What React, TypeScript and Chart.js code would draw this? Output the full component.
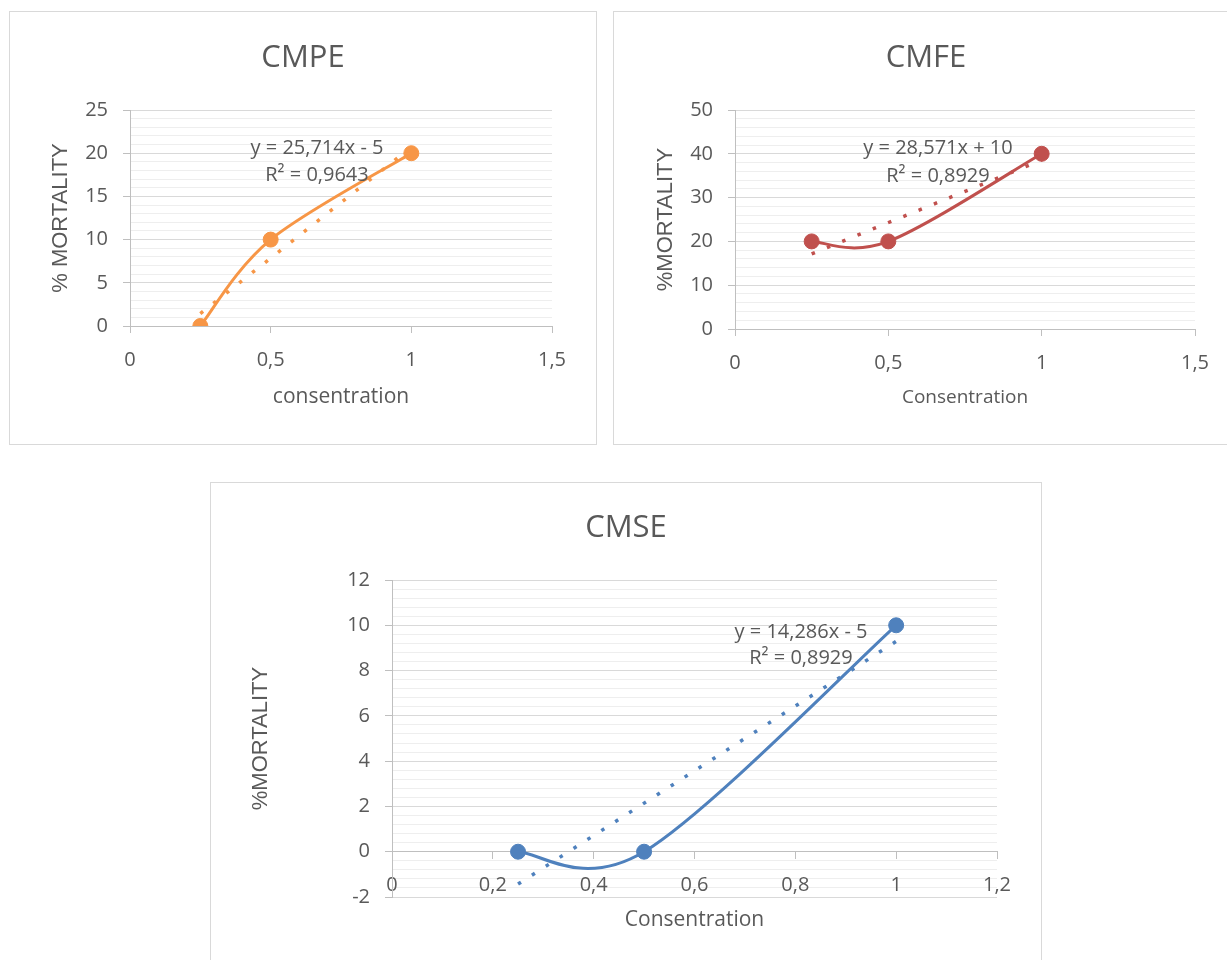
import React, { useEffect, useRef } from "react";
import { Chart, registerables } from "chart.js";

Chart.register(...registerables);

// ---------- data ----------
const concentrations = [0.25, 0.5, 1];
const cmpeMortality = [0, 10, 20];
const cmfeMortality = [20, 20, 40];
const cmseMortality = [0, 0, 10];

const trendX = [0.25, 1];
const cmpeTrend = [1.43, 20.71];
const cmfeTrend = [17.14, 38.57];
const cmseTrend = [-1.43, 9.29];

const cmpeEquation = ["y = 25,714x - 5", "R² = 0,9643"];
const cmfeEquation = ["y = 28,571x + 10", "R² = 0,8929"];
const cmseEquation = ["y = 14,286x - 5", "R² = 0,8929"];

const cmpeXTicks = [0, 0.5, 1, 1.5];
const cmfeXTicks = [0, 0.5, 1, 1.5];
const cmseXTicks = [0, 0.2, 0.4, 0.6, 0.8, 1, 1.2];

const cmpeYRange = [0, 25]; // min, max
const cmfeYRange = [0, 50];
const cmseYRange = [-2, 12];
const cmpeYSteps = [5, 1]; // major, minor
const cmfeYSteps = [10, 2];
const cmseYSteps = [2, 0.4];

// ---------- styles ----------
const TEXT = "#595959";
const AXIS = "#BFBFBF";
const GRID_MAJOR = "#D9D9D9";
const GRID_MINOR = "#EEEEEE";
const SANS = "'Open Sans', 'DejaVu Sans', sans-serif";
const ARIAL = "'Liberation Sans', Arial, sans-serif";
const TICK_SIZE = 20;
const TITLE_SIZE = 31;
const Y_TITLE_SIZE = 22;

type Spec = {
  box: { left: number; top: number; width: number; height: number };
  plot: { left: number; top: number; right: number; bottom: number };
  title: string;
  titleY: number;
  color: string;
  values: number[];
  trend: number[];
  equation: string[];
  eqX: number;
  eqY: number[];
  xTicks: number[];
  yRange: number[];
  ySteps: number[];
  xTitle: string;
  xTitleSize: number;
  xTitleY: number;
  yTitle: string;
  yTitleX: number;
  xAxisAtZero?: boolean;
};

const fmt = (v: number) => String(Math.round(v * 1000) / 1000).replace(".", ",");

const equationPlugin = {
  id: "equation",
  afterDatasetsDraw(chart: any, _args: any, opts: any) {
    const ctx = chart.ctx;
    ctx.save();
    ctx.font = `${opts.size}px ${opts.family}`;
    ctx.fillStyle = opts.color;
    ctx.textAlign = "center";
    ctx.textBaseline = "middle";
    (opts.lines as string[]).forEach((t, i) => ctx.fillText(t, opts.x, opts.y[i]));
    ctx.restore();
  },
};

// Office-style smoothing: Catmull-Rom control points (1/6 of neighbour chord)
const smoothPlugin = {
  id: "officeSmooth",
  beforeDatasetDraw(chart: any, args: any) {
    const meta = args.meta;
    const line = meta.dataset;
    if (!line || !line.options || !line.options.tension) return;
    if (typeof line.updateControlPoints === "function") {
      line.updateControlPoints(chart.chartArea, "x");
    }
    const pts = meta.data;
    const n = pts.length;
    for (let i = 0; i < n; i++) {
      const prev = pts[Math.max(i - 1, 0)];
      const next = pts[Math.min(i + 1, n - 1)];
      const dx = (next.x - prev.x) / 6;
      const dy = (next.y - prev.y) / 6;
      pts[i].cp1x = pts[i].x - dx;
      pts[i].cp1y = pts[i].y - dy;
      pts[i].cp2x = pts[i].x + dx;
      pts[i].cp2y = pts[i].y + dy;
    }
    line._pointsUpdated = true;
    line._path = undefined;
  },
};

function ChartBox({ spec }: { spec: Spec }) {
  const ref = useRef<HTMLCanvasElement | null>(null);
  const cw = spec.box.width - 2;
  const ch = spec.box.height - 2;
  const ox = spec.box.left + 1;
  const oy = spec.box.top + 1;

  useEffect(() => {
    if (!ref.current) return;
    const pl = spec.plot.left - ox;
    const pr = spec.plot.right - ox;
    const pt = spec.plot.top - oy;
    const pb = spec.plot.bottom - oy;
    const side = cw - pr; // equal side padding keeps the title centred in the box
    const [yMin, yMax] = spec.yRange;
    const [major, minor] = spec.ySteps;
    const isMajor = (v: number) => Math.abs(v / major - Math.round(v / major)) < 1e-6;

    const titleLh = TITLE_SIZE * 1.2;
    const titleC = spec.titleY - oy;
    const yTitleLh = Y_TITLE_SIZE * 1.2;
    const xTitleLh = spec.xTitleSize * 1.2;

    let xPosition: any = "bottom";
    let xHeight = ch - pb;
    let xTitlePadBottom = ch - (spec.xTitleY - oy) - xTitleLh / 2;
    if (spec.xAxisAtZero) {
      xPosition = { y: 0 };
      const axisPix = pt + ((yMax - 0) / (yMax - yMin)) * (pb - pt);
      xTitlePadBottom = 0;
      xHeight = spec.xTitleY - oy - axisPix + xTitleLh / 2;
    }

    const chart = new Chart(ref.current, {
      type: "line",
      data: {
        datasets: [
          {
            data: concentrations.map((x, i) => ({ x, y: spec.values[i] })),
            borderColor: spec.color,
            backgroundColor: spec.color,
            borderWidth: 3,
            tension: 0.4,
            pointRadius: 7.5,
            pointBorderWidth: 1,
            pointBackgroundColor: spec.color,
            pointBorderColor: spec.color,
          },
          {
            data: trendX.map((x, i) => ({ x, y: spec.trend[i] })),
            borderColor: spec.color,
            borderWidth: 3.5,
            borderDash: [3.5, 13],
            tension: 0,
            pointRadius: 0,
          },
        ],
      },
      options: {
        animation: false,
        responsive: false,
        events: [],
        layout: {
          padding: {
            left: side,
            top: 0,
            right: side,
            bottom: spec.xAxisAtZero ? ch - pb : 0,
          },
        },
        plugins: {
          legend: { display: false },
          tooltip: { enabled: false },
          title: {
            display: true,
            text: spec.title,
            color: TEXT,
            font: { family: SANS, size: TITLE_SIZE, weight: "normal", lineHeight: 1.2 },
            padding: { top: titleC - titleLh / 2, bottom: pt - titleC - titleLh / 2 },
          },
          equation: {
            lines: spec.equation,
            x: spec.eqX - ox,
            y: spec.eqY.map((v) => v - oy),
            size: TICK_SIZE,
            family: SANS,
            color: TEXT,
          },
        } as any,
        scales: {
          x: {
            type: "linear",
            position: xPosition,
            min: spec.xTicks[0],
            max: spec.xTicks[spec.xTicks.length - 1],
            afterBuildTicks: (s: any) => {
              s.ticks = spec.xTicks.map((v) => ({ value: v }));
            },
            afterFit: (s: any) => {
              s.height = xHeight;
            },
            grid: {
              drawOnChartArea: false,
              drawTicks: true,
              tickLength: 7,
              tickColor: AXIS,
            },
            border: { display: true, color: AXIS, width: 1 },
            ticks: {
              autoSkip: false,
              maxRotation: 0,
              padding: 15,
              color: TEXT,
              font: { family: SANS, size: TICK_SIZE },
              callback: (v: any) => fmt(Number(v)),
            },
            title: {
              display: true,
              text: spec.xTitle,
              color: TEXT,
              font: { family: SANS, size: spec.xTitleSize, lineHeight: 1.2 },
              padding: { top: 0, bottom: xTitlePadBottom },
            },
          },
          y: {
            type: "linear",
            position: "left",
            min: yMin,
            max: yMax,
            afterFit: (s: any) => {
              s.width = pl - side;
            },
            grid: {
              color: (c: any) => (isMajor(c.tick.value) ? GRID_MAJOR : GRID_MINOR),
              tickColor: (c: any) => (isMajor(c.tick.value) ? AXIS : "rgba(0,0,0,0)"),
              tickLength: 7,
              lineWidth: 1,
            },
            border: { display: true, color: AXIS, width: 1 },
            ticks: {
              stepSize: minor,
              autoSkip: false,
              padding: 15,
              color: TEXT,
              font: { family: SANS, size: TICK_SIZE },
              callback: (v: any) => (isMajor(Number(v)) ? fmt(Number(v)) : ""),
            },
            title: {
              display: true,
              text: spec.yTitle,
              color: TEXT,
              font: { family: ARIAL, size: Y_TITLE_SIZE, lineHeight: 1.2 },
              padding: { top: spec.yTitleX - ox - side - yTitleLh / 2, bottom: 0 },
            },
          },
        },
      } as any,
      plugins: [smoothPlugin, equationPlugin],
    });
    return () => chart.destroy();
  }, [spec]);

  return (
    <div
      style={{
        position: "absolute",
        left: spec.box.left,
        top: spec.box.top,
        width: spec.box.width,
        height: spec.box.height,
        border: "1px solid #D9D9D9",
        boxSizing: "border-box",
        background: "#FFFFFF",
      }}
    >
      <canvas ref={ref} width={cw} height={ch} style={{ display: "block", width: cw, height: ch }} />
    </div>
  );
}

const specs: Spec[] = [
  {
    box: { left: 9, top: 11, width: 588, height: 434 },
    plot: { left: 130, top: 110, right: 552, bottom: 326 },
    title: "CMPE",
    titleY: 58,
    color: "#F79646",
    values: cmpeMortality,
    trend: cmpeTrend,
    equation: cmpeEquation,
    eqX: 317,
    eqY: [148, 175],
    xTicks: cmpeXTicks,
    yRange: cmpeYRange,
    ySteps: cmpeYSteps,
    xTitle: "consentration",
    xTitleSize: 21,
    xTitleY: 397,
    yTitle: "% MORTALITY",
    yTitleX: 61,
  },
  {
    box: { left: 613, top: 11, width: 626, height: 434 },
    plot: { left: 735, top: 110, right: 1195, bottom: 329 },
    title: "CMFE",
    titleY: 58,
    color: "#C0504D",
    values: cmfeMortality,
    trend: cmfeTrend,
    equation: cmfeEquation,
    eqX: 938,
    eqY: [148, 176],
    xTicks: cmfeXTicks,
    yRange: cmfeYRange,
    ySteps: cmfeYSteps,
    xTitle: "Consentration",
    xTitleSize: 19,
    xTitleY: 398,
    yTitle: "%MORTALITY",
    yTitleX: 666,
  },
  {
    box: { left: 210, top: 482, width: 832, height: 490 },
    plot: { left: 392, top: 580, right: 997, bottom: 897 },
    title: "CMSE",
    titleY: 528,
    color: "#4F81BD",
    values: cmseMortality,
    trend: cmseTrend,
    equation: cmseEquation,
    eqX: 801,
    eqY: [632, 658],
    xTicks: cmseXTicks,
    yRange: cmseYRange,
    ySteps: cmseYSteps,
    xTitle: "Consentration",
    xTitleSize: 21,
    xTitleY: 920,
    yTitle: "%MORTALITY",
    yTitleX: 261,
    xAxisAtZero: true,
  },
];

export default function App() {
  return (
    <div
      style={{
        position: "fixed",
        left: 0,
        top: 0,
        width: 1227,
        height: 960,
        overflow: "hidden",
        background: "#FFFFFF",
      }}
    >
      {specs.map((s) => (
        <ChartBox key={s.title} spec={s} />
      ))}
    </div>
  );
}
